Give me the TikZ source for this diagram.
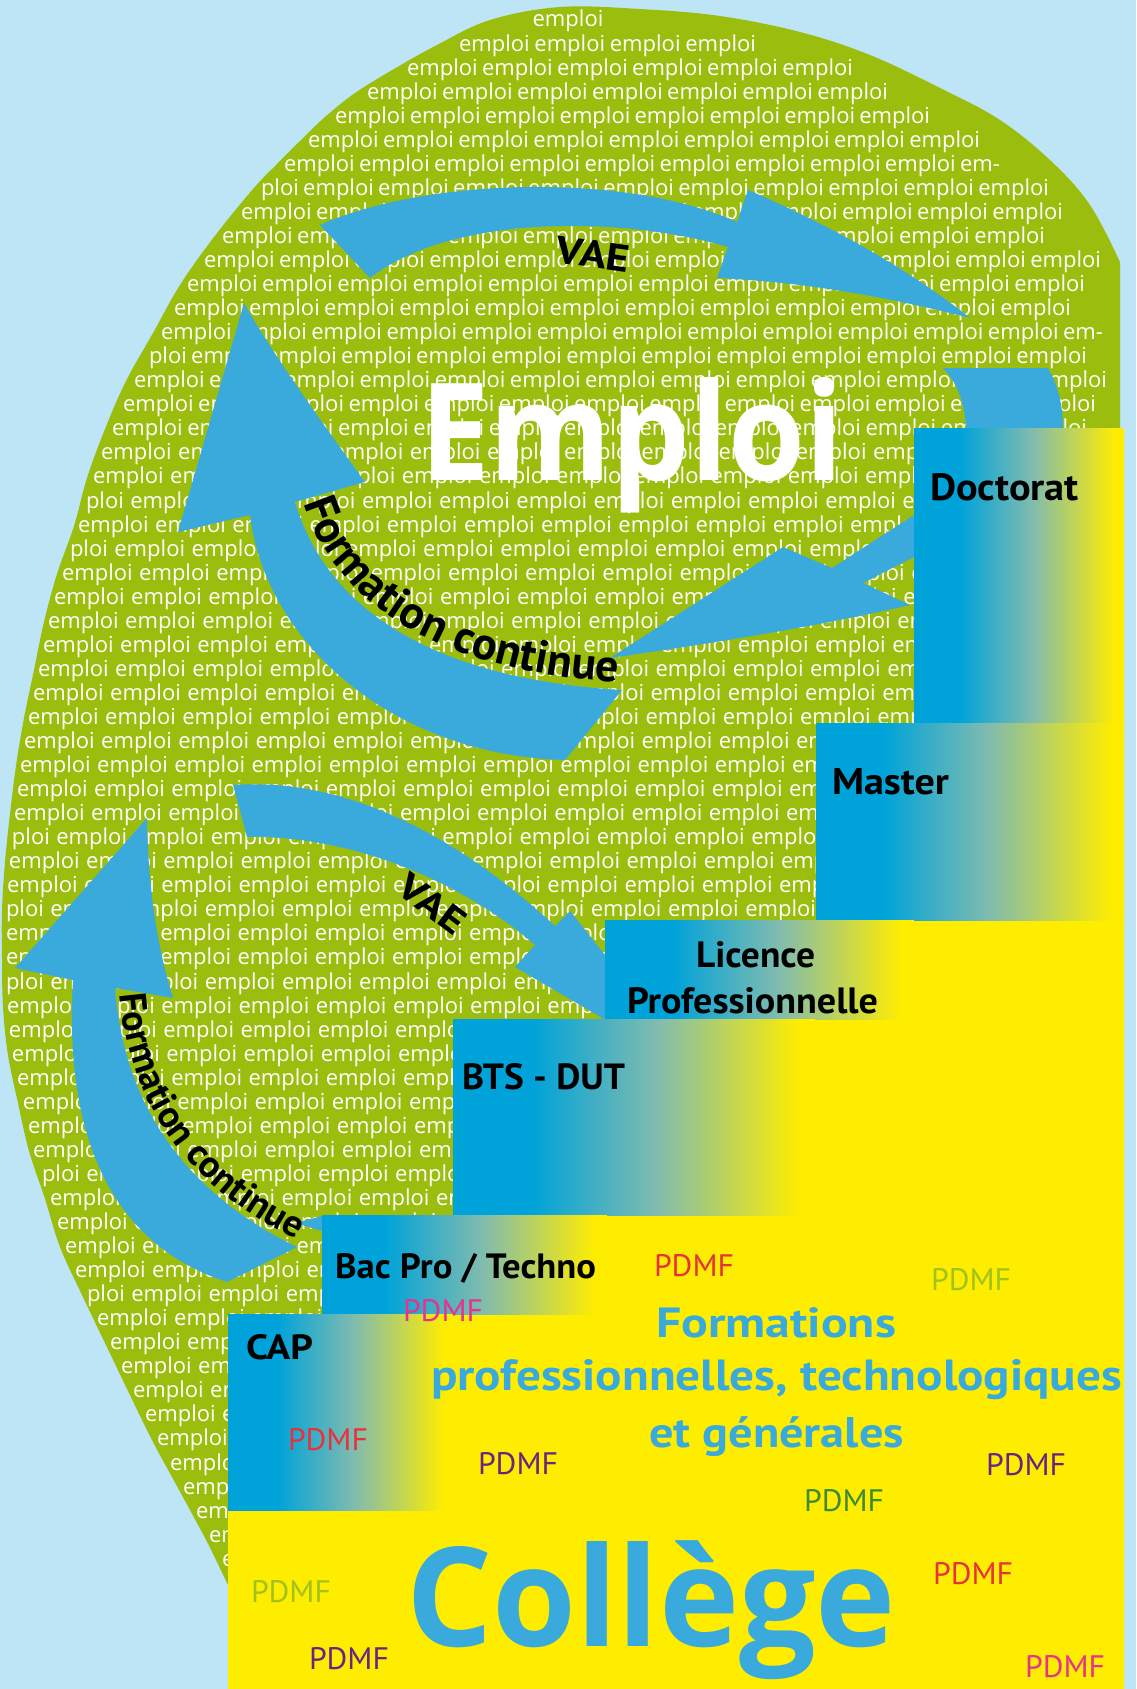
\documentclass[tikz,border=0pt]{standalone}
\usepackage{fontspec}
\usepackage{graphicx}
\usetikzlibrary{decorations.text}
\newfontfamily\ptsans{PT Sans}
\newfontfamily\osans{Open Sans}
\ExplSyntaxOn
\cs_new:Npn \ewrep #1 { \prg_replicate:nn { #1 - 1 } { emploi ~ } emploi }
\ExplSyntaxOff
\newcommand\fitbox[3]{\resizebox{#1pt}{#2pt}{#3}}
\newcommand\fcfont{\ptsans\bfseries\fontsize{46pt}{46pt}\selectfont}
\newcommand\fcfontb{\ptsans\bfseries\fontsize{38pt}{38pt}\selectfont}
\newcommand\empfont{\osans\fontsize{22pt}{22pt}\selectfont\spaceskip=6.5pt plus 40pt minus 3pt\relax}
\definecolor{bgblue}{HTML}{BEE5F6}
\definecolor{leaf}{HTML}{9BBE0E}
\definecolor{arrblue}{HTML}{3AA9DB}
\definecolor{bblue}{HTML}{00A3D9}
\definecolor{bmid}{HTML}{80BBAF}
\definecolor{byellow}{HTML}{FFED00}
\definecolor{pdred}{HTML}{E6323C}
\definecolor{pdpink}{HTML}{E6338C}
\definecolor{pdlgreen}{HTML}{A0C21A}
\definecolor{pdpurple}{HTML}{662483}
\definecolor{pddgreen}{HTML}{3D8A34}
\definecolor{txtblue}{HTML}{3AA9DB}
\pgfdeclarehorizontalshading{boxgrad}{100bp}{color(0bp)=(bblue); color(36bp)=(bblue); color(53bp)=(bmid); color(73bp)=(byellow); color(100bp)=(byellow)}
\def\leafpath{(260,1689) -- (228,1585) -- plot[smooth, tension=0.6] coordinates {(216,1560) (204,1536) (178,1488) (152,1440) (128,1391) (105,1343) (82,1295) (60,1247) (45,1199) (29,1151) (18,1103) (8,1055) (3,1007) (2,958) (2,910) (5,862) (10,814) (16,766) (24,718) (34,670) (44,622) (57,574) (74,526) (87,478) (105,429) (126,381) (153,333) (180,285) (214,237) (253,189) (276,165) (300,141) (325,117) (355,93) (394,69) (437,45) (490,20) (560,7) (640,9) (720,16) (800,32) (870,55) (942,89) (1000,120) (1051,161) (1090,205) (1120,262)} -- (1121,1689) -- cycle}
\begin{document}
\begin{tikzpicture}[x=1pt,y=-1pt,
  emp/.style={anchor=base west, inner sep=0pt, outer sep=0pt, text=white, font=\empfont},
  lab/.style={anchor=base west, inner sep=0pt, outer sep=0pt, text=black, font=\ptsans\bfseries\fontsize{30pt}{30pt}\selectfont},
  pd/.style={anchor=base west, inner sep=0pt, outer sep=0pt, font=\ptsans\fontsize{24pt}{24pt}\selectfont},
  gbox/.style={shading=boxgrad, anchor=north west, inner sep=0pt, outer sep=0pt, draw=none},
  arrowfill/.style={fill=arrblue, draw=none},
  bigtxt/.style={anchor=base west, inner sep=0pt, outer sep=0pt}]
\useasboundingbox (0,0) rectangle (1136,1689);
\fill[bgblue] (0,0) rectangle (1136,1689);
% leaf
\fill[leaf] \leafpath;
\begin{scope}
\clip \leafpath;
\node[emp, anchor=base] (r1) at (568,27) {emploi};
\node[emp] (r2) at (459,51.05) {\makebox[297pt][s]{\ewrep{4}}};
\node[emp] (r3) at (407,75.1) {\makebox[446pt][s]{\ewrep{6}}};
\node[emp] (r4) at (367,99.15) {\makebox[521pt][s]{\ewrep{7}}};
\node[emp] (r5) at (335,123.2) {\makebox[595pt][s]{\ewrep{8}}};
\node[emp] (r6) at (308,147.25) {\makebox[672pt][s]{\ewrep{9}}};
\node[emp] (r7) at (284,171.3) {\makebox[716pt][s]{\ewrep{9} em-}};
\node[emp] (r8) at (261,195.35) {\makebox[788pt][s]{ploi \ewrep{10}}};
\node[emp] (r9) at (241,219.4) {\makebox[822pt][s]{\ewrep{11}}};
\node[emp] (r10) at (222,243.45) {\makebox[823pt][s]{\ewrep{11}}};
\node[emp] (r11) at (204,267.5) {\makebox[897pt][s]{\ewrep{12}}};
\node[emp] (r12) at (187,291.55) {\makebox[898pt][s]{\ewrep{12}}};
\node[emp] (r13) at (174,315.6) {\makebox[897pt][s]{\ewrep{12}}};
\node[emp] (r14) at (161,339.65) {\makebox[942pt][s]{\ewrep{12} em-}};
\node[emp] (r15) at (149,363.7) {\makebox[938pt][s]{ploi \ewrep{12}}};
\node[emp] (r16) at (134,387.75) {\makebox[973pt][s]{\ewrep{13}}};
\node[emp] (r17) at (123,411.8) {\makebox[973pt][s]{\ewrep{13}}};
\node[emp] (r18) at (112,435.85) {\makebox[975pt][s]{\ewrep{13}}};
\foreach \k/\s/\p in {19/101/0, 20/93/0, 21/86/1, 22/78/0, 23/70/1, 24/62/0, 25/54/0, 26/48/0, 27/43/0, 28/38/0, 29/33/0, 30/28/0, 31/24/0, 32/20/0, 33/17/0, 34/14/0, 35/12/1, 36/9/0, 37/7/0, 38/6/1, 39/6/0, 40/6/0, 41/6/1, 42/7/0, 43/9/0, 44/12/0, 45/17/0, 46/23/0, 47/28/0, 48/33/0, 49/42/1, 50/50/0, 51/57/0, 52/65/0, 53/75/0, 54/87/1, 55/97/0, 56/110/0, 57/121/0, 58/133/0, 59/145/0, 60/157/0, 61/170/0, 62/183/0, 63/196/0, 64/209/0, 65/222/0}{
  \node[emp] (r\k) at (\s,{27+24.05*(\k-1)}) {\ifnum\p=1 ploi \fi\ewrep{15}};
}
\end{scope}
% big Emploi
\node[bigtxt, text=white, font=\osans\bfseries\fontsize{130pt}{130pt}\selectfont] (emploibig) at (420,480) {\fitbox{423}{103}{Emploi}};
% arrows
\fill[arrowfill] (320,225) .. controls (420,180) and (620,170) .. (737,222) -- (748,190) .. controls (830,225) and (910,270) .. (970,318) .. controls (880,295) and (800,282) .. (717,278) -- (728,247) .. controls (620,215) and (450,215) .. (370,278) -- cycle;
\fill[arrowfill] (244,303) -- (178,532) -- (250,515) .. controls (265,640) and (390,755) .. (565,760) -- (622,690) .. controls (450,680) and (330,620) .. (295,502) -- (365,482) .. controls (320,420) and (270,350) .. (244,303) -- cycle;
\fill[arrowfill] (943,368) -- (1048,368) .. controls (1058,385) and (1063,405) .. (1063,430) .. controls (1066,520) and (990,545) .. (914,557) -- (863,583) -- (910,605) .. controls (810,628) and (700,645) .. (610,658) -- (783,547) -- (832,568) -- (914,515) .. controls (950,500) and (968,480) .. (966,430) .. controls (965,400) and (955,380) .. (943,368) -- cycle;
\fill[arrowfill] (233,785) .. controls (330,778) and (440,820) .. (555,926) -- (570,911) -- (700,1075) -- (515,967) -- (535,945) .. controls (460,880) and (350,835) .. (247,837) -- cycle;
\fill[arrowfill] (147,818) -- (15,968) -- (73,980) .. controls (65,1120) and (100,1240) .. (227,1282) -- (297,1247) .. controls (200,1200) and (125,1120) .. (115,988) -- (173,998) .. controls (155,940) and (148,880) .. (147,818) -- cycle;
\fill[arrowfill] (295,1223) -- (322,1216) -- (340,1216) -- (340,1232) -- (322,1231) -- cycle;
% arrow labels
\node[lab, anchor=center, rotate=-8] (vae1) at (593,254) {\fitbox{74}{27}{VAE}};
\node[lab, anchor=center, rotate=-37] (vae2) at (432,904) {\fitbox{75}{26}{VAE}};
\path[decorate, decoration={text along path, text={|\fcfont|Formation continue}}] (304,503) .. controls (339,615) and (457,674) .. (627,683) -- (760,688);
\path[decorate, decoration={text along path, text={|\fcfontb|Formation continue}}] (120,994) .. controls (130,1120) and (205,1196) .. (300,1241) -- (420,1280);
% yellow staircase
\fill[byellow] (228,1689) -- (228,1320) -- (330,1320) -- (330,1220) -- (460,1220) -- (460,1025) -- (612,1025) -- (612,925) -- (820,925) -- (820,728) -- (1124,728) -- (1124,1689) -- cycle;
% boxes
\node[gbox, minimum width=210pt, minimum height=295pt] (doc) at (914,428) {};
\node[gbox, minimum width=308pt, minimum height=197pt] (master) at (816,723) {};
\node[gbox, minimum width=309pt, minimum height=99pt] (licence) at (605,920) {};
\node[gbox, minimum width=362pt, minimum height=196pt] (bts) at (453,1019) {};
\node[gbox, minimum width=285pt, minimum height=99pt] (bac) at (322,1215) {};
\node[gbox, minimum width=225pt, minimum height=196pt] (cap) at (228,1314) {};
% box labels
\node[lab] (tdoc) at (930,500) {\fitbox{149}{27}{Doctorat}};
\node[lab] (tmaster) at (832,794) {\fitbox{117}{26}{Master}};
\node[lab] (tlic1) at (696,967) {\fitbox{119}{26}{Licence}};
\node[lab] (tlic2) at (627,1013) {\fitbox{251}{26}{Professionnelle}};
\node[lab] (tbts) at (462,1089) {\fitbox{163}{26}{BTS - DUT}};
\node[lab] (tbac) at (335,1278) {\fitbox{261}{25}{Bac Pro / Techno}};
\node[lab] (tcap) at (246,1359) {\fitbox{67}{25}{CAP}};
% formations text
\node[bigtxt, text=txtblue, font=\ptsans\bfseries\fontsize{40pt}{40pt}\selectfont] (f1) at (656,1337) {\fitbox{240}{30}{Formations}};
\node[bigtxt, text=txtblue, font=\ptsans\bfseries\fontsize{40pt}{40pt}\selectfont] (f2) at (431,1390) {\fitbox{691}{31}{professionnelles, technologiques}};
\node[bigtxt, text=txtblue, font=\ptsans\bfseries\fontsize{40pt}{40pt}\selectfont] (f3) at (649,1447) {\fitbox{255}{30}{et g\smash{é}n\smash{é}rales}};
% PDMF
\node[pd, text=pdred] (pd1) at (654,1276) {\fitbox{80}{22}{PDMF}};
\node[pd, text=pdlgreen] (pd2) at (931,1290.5) {\fitbox{80}{22}{PDMF}};
\node[pd, text=pdpink] (pd3) at (403,1321) {\fitbox{80}{22}{PDMF}};
\node[pd, text=pdred] (pd4) at (288,1450) {\fitbox{80}{22}{PDMF}};
\node[pd, text=pdpurple] (pd5) at (478,1474) {\fitbox{80}{22}{PDMF}};
\node[pd, text=pdpurple] (pd6) at (986,1475) {\fitbox{80}{22}{PDMF}};
\node[pd, text=pddgreen] (pd7) at (804,1511) {\fitbox{80}{22}{PDMF}};
\node[pd, text=pdred] (pd8) at (933,1584) {\fitbox{80}{22}{PDMF}};
\node[pd, text=pdlgreen] (pd9) at (251,1602.6) {\fitbox{80}{22}{PDMF}};
\node[pd, text=pdpurple] (pd10) at (309,1669.7) {\fitbox{80}{22}{PDMF}};
\node[pd, text=pdpink] (pd11) at (1025,1677) {\fitbox{80}{22}{PDMF}};
% College
\node[bigtxt, text=txtblue, font=\osans\bfseries\fontsize{130pt}{130pt}\selectfont] (college) at (406,1646) {\fitbox{490}{105}{Coll\smash{è}ge}};
\end{tikzpicture}
\end{document}
